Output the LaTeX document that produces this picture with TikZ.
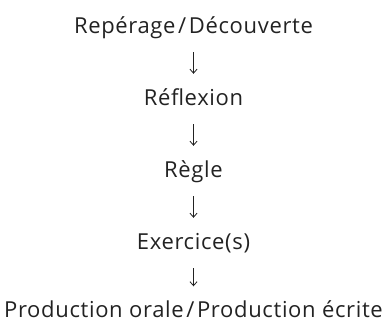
\documentclass[tikz,border=0pt]{standalone}
\usepackage{fontspec}
\setmainfont{Open Sans}[LetterSpace=3]
\usetikzlibrary{arrows.meta}
\definecolor{inkgray}{HTML}{222222}
\newcommand{\slashsep}{\hspace{0.12em}/\hspace{0.12em}}
\tikzset{
  stage/.style={font=\fontsize{22}{26}\selectfont, text=inkgray, inner sep=0pt,
    text height=16pt, text depth=4pt, anchor=base},
  flow/.style={draw=inkgray, line width=0.8pt, -{Straight Barb[length=4pt,width=7pt]},
    shorten <=15pt, shorten >=15pt}
}
\begin{document}
\begin{tikzpicture}[x=1pt,y=-1pt]
  \useasboundingbox (0,0) rectangle (387,322);
  \node[stage] (reperage)   at (193.5,33)  {Repérage\slashsep Découverte};
  \node[stage] (reflexion)  at (193.5,105) {Réflexion};
  \node[stage] (regle)      at (193.5,177) {Règle};
  \node[stage] (exercices)  at (193.5,249) {Exercice(s)};
  \node[stage] (production) at (193.5,317.5) {Production orale\slashsep Production écrite};
  \draw[flow] (reperage) -- (reflexion);
  \draw[flow] (reflexion) -- (regle);
  \draw[flow] (regle) -- (exercices);
  \draw[flow] (exercices) -- (production);
\end{tikzpicture}
\end{document}
